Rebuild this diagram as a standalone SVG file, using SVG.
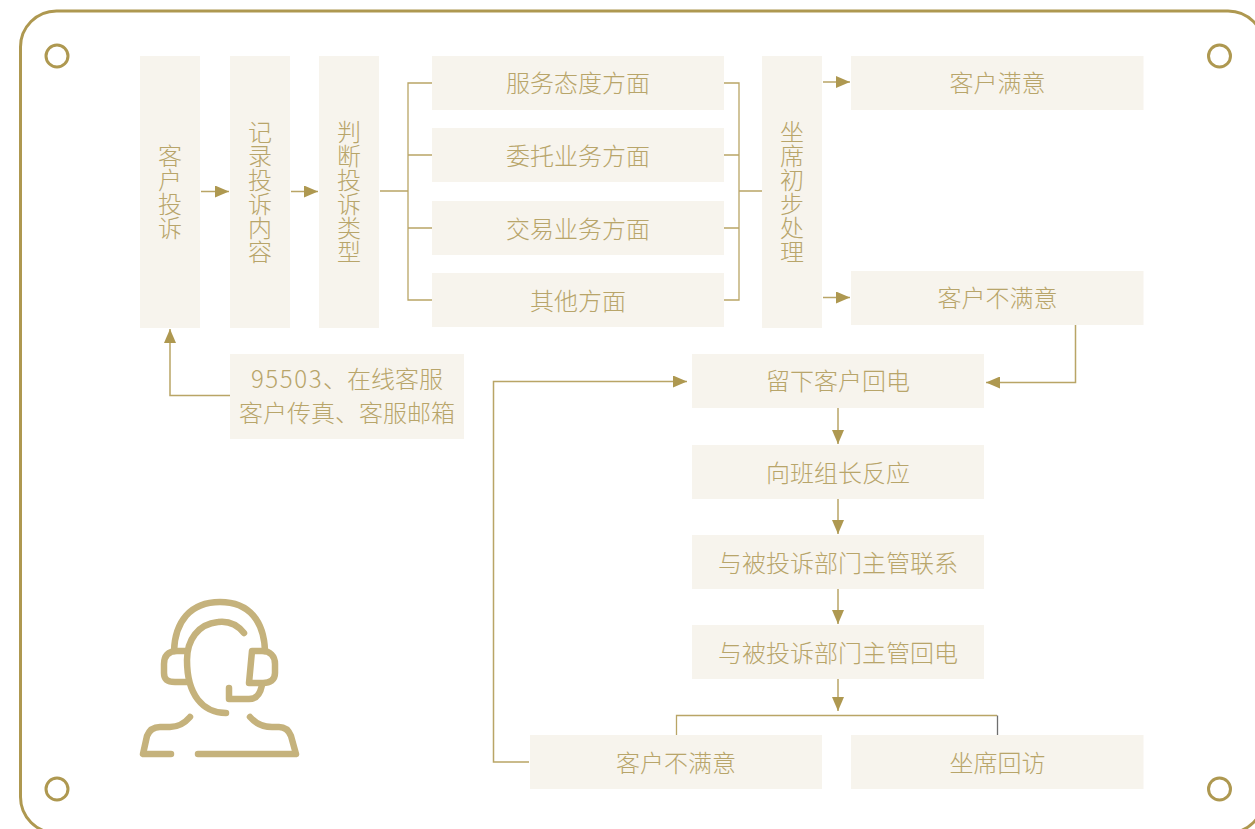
<svg xmlns="http://www.w3.org/2000/svg" width="1255" height="829" viewBox="0 0 1255 829">
<style>
text{font-family:"Noto Sans CJK SC","Noto Sans",sans-serif;font-size:24px;font-weight:300;fill:#b8a56a;text-anchor:middle}
.b{fill:#f7f4ed}
.l{fill:none;stroke:#b9a566;stroke-width:1.3}
.a{fill:none;stroke:#b9a566;stroke-width:1.5;marker-end:url(#m)}
.f{fill:none;stroke:#ae9850;stroke-width:3}
.i{fill:none;stroke:#c5b27c;stroke-width:6.5;stroke-linecap:round;stroke-linejoin:round}
</style>
<defs><marker id="m" markerUnits="userSpaceOnUse" markerWidth="15" markerHeight="12" refX="14" refY="6" orient="auto"><path d="M0 0L14 6L0 12Z" fill="#ae9850"/></marker></defs>
<rect width="1255" height="829" fill="#fff"/>
<g id="frame">
<rect class="f" x="20.500" y="11" width="1243.500" height="822" rx="36"/>
<circle class="f" cx="57" cy="56" r="11"/><circle class="f" cx="1219.500" cy="56" r="11"/><circle class="f" cx="57" cy="789" r="11"/><circle class="f" cx="1219.500" cy="789" r="11"/>
</g>
<g id="connectors">
<path class="a" d="M201 191.500H229"/><path class="a" d="M291 191.500H318"/>
<path class="l" d="M380 191H408M432 83H408V300H432M408 155H432M408 228H432"/>
<path class="l" d="M724 83H739V300H724M724 155H739M724 228H739M739 191H762"/>
<path class="a" d="M823 82H850"/><path class="a" d="M823 297.500H850"/>
<path class="a" d="M230 395.500H170V329"/>
<path class="a" d="M1075.500 325V382.500H986"/>
<path class="a" d="M529 762H493.500V381.500H687"/>
<path class="a" d="M838 408V444"/><path class="a" d="M838 499V534"/><path class="a" d="M838 589V624"/><path class="a" d="M838 678V711"/>
<path class="l" d="M676.500 735V715.500H997"/><path d="M997.500 715.500V735" fill="none" stroke="#6f6f6f" stroke-width="1.300"/>
</g>
<g id="n1"><rect class="b" x="140" y="56" width="60" height="272"/><text x="170 170 170 170" y="165 189 213 237">客户投诉</text></g>
<g id="n2"><rect class="b" x="230" y="56" width="60" height="272"/><text x="260 260 260 260 260 260" y="141 165 189 213 237 261">记录投诉内容</text></g>
<g id="n3"><rect class="b" x="319" y="56" width="60" height="272"/><text x="349 349 349 349 349 349" y="141 165 189 213 237 261">判断投诉类型</text></g>
<g id="n4"><rect class="b" x="432" y="56" width="292" height="54"/><text x="578" y="92">服务态度方面</text></g>
<g id="n5"><rect class="b" x="432" y="128" width="292" height="54"/><text x="578" y="165">委托业务方面</text></g>
<g id="n6"><rect class="b" x="432" y="201" width="292" height="54"/><text x="578" y="238">交易业务方面</text></g>
<g id="n7"><rect class="b" x="432" y="273" width="292" height="54"/><text x="578" y="310">其他方面</text></g>
<g id="n8"><rect class="b" x="762" y="56" width="60" height="272"/><text x="792 792 792 792 792 792" y="141 165 189 213 237 261">坐席初步处理</text></g>
<g id="n9"><rect class="b" x="851" y="56" width="292.500" height="54"/><text x="997.500" y="92">客户满意</text></g>
<g id="n10"><rect class="b" x="851" y="271" width="292.500" height="54"/><text x="997.500" y="307">客户不满意</text></g>
<g id="n11"><rect class="b" x="230" y="354" width="234" height="85"/><text x="347" y="388"><tspan letter-spacing="1.600">95503</tspan>、在线客服</text><text x="347" y="422">客户传真、客服邮箱</text></g>
<g id="n12"><rect class="b" x="692" y="354" width="292" height="54"/><text x="838" y="390">留下客户回电</text></g>
<g id="n13"><rect class="b" x="692" y="445" width="292" height="54"/><text x="838" y="482">向班组长反应</text></g>
<g id="n14"><rect class="b" x="692" y="535" width="292" height="54"/><text x="838" y="572">与被投诉部门主管联系</text></g>
<g id="n15"><rect class="b" x="692" y="625" width="292" height="54"/><text x="838" y="662">与被投诉部门主管回电</text></g>
<g id="n16"><rect class="b" x="530" y="735" width="292" height="54"/><text x="676" y="772">客户不满意</text></g>
<g id="n17"><rect class="b" x="851" y="735" width="292.500" height="54"/><text x="997.500" y="772">坐席回访</text></g>
<g id="agent-icon">
<path class="i" d="M174 651C175 622 190 602 220 602C250 602 264 622 265 651"/>
<path class="i" d="M244 633C236 623 226 621 218 622C198 624 187 640 187 660C187 695 203 713 226 713"/>
<path class="i" d="M185 651H177C168 651 164 656 164 664V673C164 680 168 682 175 682H187"/>
<path class="i" d="M252 651H262C270 651 275 656 275 664V673C275 680 270 683 263 683H249L252 651Z"/>
<path class="i" d="M229 688V699H249C256 699 260 695 262 685"/>
<path class="i" d="M190 717C184 724 178 727 170 727H160C153 727 149 731 147 736L143 754H171"/>
<path class="i" d="M250 717C256 724 263 727 272 727H279C286 727 289 731 291 736L296 754H198"/>
</g>
</svg>
